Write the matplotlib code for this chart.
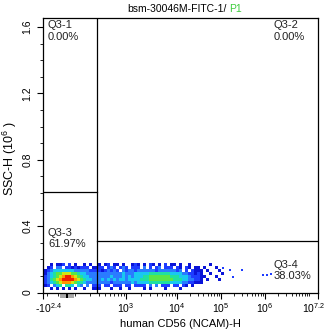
import numpy as np
import matplotlib
matplotlib.use("Agg")
import matplotlib.pyplot as plt
import matplotlib.transforms as mtransforms
from matplotlib.colors import ListedColormap, BoundaryNorm
from matplotlib.patches import Rectangle

plt.rcParams['font.family'] = ['Liberation Sans', 'DejaVu Sans']
plt.rcParams['mathtext.fontset'] = 'custom'
plt.rcParams['mathtext.rm'] = 'Liberation Sans'
plt.rcParams['mathtext.it'] = 'Liberation Sans:italic'
plt.rcParams['mathtext.bf'] = 'Liberation Sans:bold'
plt.rcParams['mathtext.sf'] = 'Liberation Sans'

# ---------------- data ----------------
title_sample = "bsm-30046M-FITC-1/"
title_gate = "P1"
x_title = "human CD56 (NCAM)-H"
y_title = r"SSC-H (10$^{6}$ )"

x_tick_values = [-10**2.4, 1e3, 1e4, 1e5, 1e6, 10**7.2]
x_tick_labels = [r"-10$^{2.4}$", r"10$^{3}$", r"10$^{4}$", r"10$^{5}$", r"10$^{6}$", r"10$^{7.2}$"]
x_minor_values = [-200, -100, 100] + [m * 10**k for k in range(2, 7) for m in range(2, 10)] + [1e7]
y_tick_values = [0, 0.4, 0.8, 1.2, 1.6]
y_tick_labels = ["0", "0.4", "0.8", "1.2", "1.6"]
y_minor_values = [0.1, 0.2, 0.3, 0.5, 0.6, 0.7, 0.9, 1.0, 1.1, 1.3, 1.4, 1.5]

scale_values = [-10**2.4, -100, 0, 100, 1e3, 1e4, 1e5, 1e6, 10**7.2]
scale_channels = [0, 15, 24, 32, 83, 134, 178, 222, 275]

quadrant_names = ["Q3-1", "Q3-2", "Q3-3", "Q3-4"]
quadrant_pcts = ["0.00%", "0.00%", "61.97%", "38.03%"]
gate_cd56 = 280
gate_ssc_left = 0.606
gate_ssc_right = 0.310

# event density (level 0-9), rows top -> bottom, columns left -> right (3-channel bins)
density_rows = [
    "00101120201001010" + "0" + "101201101001210102101020110100100" + "000010000",
    "01203302212122201" + "1" + "220232023202220302023022202102101" + "101000100",
    "12344444443333322" + "2" + "212323203233233333323333332302021" + "110100010",
    "13456677766544333" + "3" + "333333334333444445555555444433221" + "210010001",
    "23456789987654433" + "3" + "333343334343444556666666555444322" + "211000100",
    "23567899998765443" + "3" + "343434344344445556666666655544332" + "210100010",
    "23456788876554333" + "3" + "333323333334344445555555444433221" + "110000000",
    "12034505540430302" + "2" + "202202220220222203030222022021010" + "000000000",
    "00101010101001001" + "1" + "100010010010000101000010000100000" + "000000000",
]
bin_channel_start = 1
bin_channel_width = 3
ssc_bin_top = 0.178
ssc_bin_height = 0.0181

sparse_cd56 = [1.1e5, 1.6e5, 1.9e5, 3.0e5, 9.0e5, 1.1e6, 1.37e6]
sparse_ssc = [0.148, 0.136, 0.093, 0.136, 0.105, 0.105, 0.110]

zero_band = (-70, 75)
zero_mark = (-10, 10)

level_colors = ['#0a14d8', '#1e3cff', '#2a7bff', '#19c8f0', '#20e0a0',
                '#5ae646', '#d2e614', '#ff9600', '#f01e00']

# ---------------- scale ----------------
_t_anchor = np.arcsinh(np.array(scale_values, float) / 50.0)
_c_anchor = np.array(scale_channels, float)


def fwd(v):
    return np.interp(np.arcsinh(np.asarray(v, float) / 50.0), _t_anchor, _c_anchor)


def inv(p):
    return 50.0 * np.sinh(np.interp(np.asarray(p, float), _c_anchor, _t_anchor))


W, H = 332, 335
fig = plt.figure(figsize=(W / 100, H / 100), dpi=100)
ax_left, ax_right, ax_top, ax_bottom = 43, 318, 18, 292.5
ax = fig.add_axes([ax_left / W, 1 - ax_bottom / H, (ax_right - ax_left) / W, (ax_bottom - ax_top) / H])
ax.set_xscale('function', functions=(fwd, inv))
ax.set_xlim(x_tick_values[0], x_tick_values[-1])
ax.set_ylim(0, 1.655)

# density
ncol = max(len(r) for r in density_rows)
grid = np.array([[int(ch) for ch in r.ljust(ncol, '0')] for r in density_rows], float)
grid = np.flipud(grid)
nrow = grid.shape[0]
x_edges = inv(bin_channel_start + bin_channel_width * np.arange(ncol + 1))
y_edges = ssc_bin_top - ssc_bin_height * np.arange(nrow + 1)[::-1]
cmap = ListedColormap(level_colors)
norm = BoundaryNorm(np.arange(0.5, 10.5, 1.0), cmap.N)
ax.pcolormesh(x_edges, y_edges, np.ma.masked_equal(grid, 0), cmap=cmap, norm=norm,
              shading='flat', antialiased=False, linewidth=0, zorder=1)
ax.scatter(sparse_cd56, sparse_ssc, s=2.5, marker='s', color=level_colors[1], linewidths=0, zorder=1)

# gates
lw = 0.9
ax.axvline(gate_cd56, color='black', lw=lw, zorder=3)
ax.plot([x_tick_values[0], gate_cd56], [gate_ssc_left] * 2, color='black', lw=lw, zorder=3)
ax.plot([gate_cd56, x_tick_values[-1]], [gate_ssc_right] * 2, color='black', lw=lw, zorder=3)

# quadrant labels
fs = 8
qpos = [(48, 20.5), (274, 20.5), (48, 228), (274, 259.5)]
for name, pct, (px, py) in zip(quadrant_names, quadrant_pcts, qpos):
    ax.text((px - ax_left) / (ax_right - ax_left), (ax_bottom - py) / (ax_bottom - ax_top),
            name + "\n" + pct, transform=ax.transAxes, ha='left', va='top', fontsize=fs,
            linespacing=1.15, color='#222222')

# zero band under axis
trans = mtransforms.blended_transform_factory(ax.transData, ax.transAxes)
band_h = 4.5 / (ax_bottom - ax_top)
ax.add_patch(Rectangle((zero_band[0], -band_h - 0.002), zero_band[1] - zero_band[0], band_h,
                       transform=trans, facecolor='#a8a8a8', edgecolor='none', clip_on=False))
ax.add_patch(Rectangle((zero_mark[0], -band_h - 0.004), zero_mark[1] - zero_mark[0], band_h + 0.002,
                       transform=trans, facecolor='black', edgecolor='none', clip_on=False))

# ticks
ax.set_xticks(x_tick_values)
ax.set_xticklabels(x_tick_labels)
ax.set_xticks(x_minor_values, minor=True)
ax.set_yticks(y_tick_values)
ax.set_yticklabels(y_tick_labels)
ax.set_yticks(y_minor_values, minor=True)
ax.tick_params(axis='both', which='major', length=4.5, width=0.8, labelsize=7.5, color='black')
ax.tick_params(axis='both', which='minor', length=2.5, width=0.6, color='black')
ax.tick_params(axis='x', which='major', pad=2)
ax.tick_params(axis='y', which='major', pad=3, labelrotation=90)
for lab in ax.get_yticklabels():
    lab.set_va('center')
label_shift = [6, 0, 0, 0, 0, -4]
for lab, dx in zip(ax.get_xticklabels(), label_shift):
    lab.set_transform(lab.get_transform() + mtransforms.ScaledTranslation(dx / 100, 0, fig.dpi_scale_trans))
for sp in ax.spines.values():
    sp.set_linewidth(0.9)

# axis titles
fig.text(180 / W, 1 - 324 / H, x_title, ha='center', va='center', fontsize=8)
fig.text(10 / W, 1 - 159 / H, y_title, ha='center', va='center', fontsize=9, rotation=90)

# title
fig.text(227 / W, 1 - 8.5 / H, title_sample, ha='right', va='center', fontsize=7.5, color='black')
fig.text(229 / W, 1 - 8.5 / H, title_gate, ha='left', va='center', fontsize=7.5, color='#3ccc3c')

fig.savefig("out.png", dpi=100)
